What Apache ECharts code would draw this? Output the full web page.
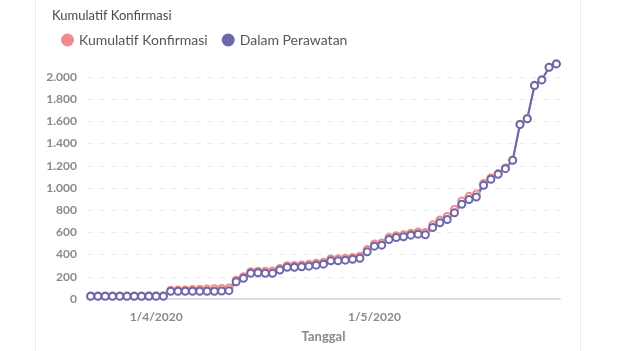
<!DOCTYPE html>
<html>
<head>
<meta charset="utf-8">
<script src="https://cdn.jsdelivr.net/npm/echarts@6/dist/echarts.min.js"></script>
<style>
  html, body { margin: 0; padding: 0; background: #fff; }
  #card { position: absolute; left: 35px; top: 0; width: 544px; height: 351px;
          border-left: 1px solid #ececec; border-right: 1px solid #ececec; }
  #chart { position: absolute; left: 0; top: 0; width: 624px; height: 351px; }
</style>
</head>
<body>
<div id="card"></div>
<div id="chart"></div>
<script>
// tanggal (d/m/yyyy)
const tanggal = [
  "23/3/2020", "24/3/2020", "25/3/2020", "26/3/2020", "27/3/2020", "28/3/2020", "29/3/2020", "30/3/2020", "31/3/2020",
  "1/4/2020", "2/4/2020", "3/4/2020", "4/4/2020", "5/4/2020", "6/4/2020", "7/4/2020", "8/4/2020", "9/4/2020", "10/4/2020",
  "11/4/2020", "12/4/2020", "13/4/2020", "14/4/2020", "15/4/2020", "16/4/2020", "17/4/2020", "18/4/2020", "19/4/2020", "20/4/2020",
  "21/4/2020", "22/4/2020", "23/4/2020", "24/4/2020", "25/4/2020", "26/4/2020", "27/4/2020", "28/4/2020", "29/4/2020", "30/4/2020",
  "1/5/2020", "2/5/2020", "3/5/2020", "4/5/2020", "5/5/2020", "6/5/2020", "7/5/2020", "8/5/2020", "9/5/2020", "10/5/2020",
  "11/5/2020", "12/5/2020", "13/5/2020", "14/5/2020", "15/5/2020", "16/5/2020", "17/5/2020", "18/5/2020", "19/5/2020", "20/5/2020",
  "21/5/2020", "22/5/2020", "23/5/2020", "24/5/2020", "25/5/2020", "26/5/2020"
];

// Dalam Perawatan
const dalamPerawatan = [
  25, 25, 25, 25, 25, 25, 25, 25, 25, 25, 25,
  70, 70, 70, 70, 70, 70, 70, 72, 75,
  155, 186, 231, 236, 231, 231, 261, 285, 285, 290,
  296, 305, 314, 344, 344, 350, 357, 366, 425, 476,
  485, 536, 553, 560, 575, 584, 578, 644, 686, 716,
  776, 854, 896, 919, 1024, 1078, 1123, 1174, 1249, 1572,
  1624, 1923, 1974, 2087, 2118
];

// Kumulatif Konfirmasi
const kumulatif = [
  28, 28, 28, 28, 28, 28, 28, 28, 30, 30, 30,
  78, 80, 82, 85, 88, 90, 92, 95, 100,
  170, 200, 245, 250, 250, 252, 275, 300, 302, 306,
  312, 322, 330, 360, 362, 368, 375, 385, 445, 495,
  505, 555, 570, 578, 592, 604, 600, 668, 712, 744,
  806, 884, 925, 945, 1040, 1090, 1130, 1180, 1252, 1575,
  1626, 1925, 1976, 2088, 2120
];

const yTicks = [0, 200, 400, 600, 800, 1000, 1200, 1400, 1600, 1800, 2000];
const labelDates = ["1/4/2020", "1/5/2020"];

const pink = "#f08c8c";
const purple = "#6d67ab";

const chart = echarts.init(document.getElementById("chart"));
chart.setOption({
  animation: false,
  textStyle: { fontFamily: "Lato, 'Open Sans', sans-serif" },
  title: {
    text: "Kumulatif Konfirmasi",
    left: 47, top: 4,
    textStyle: { fontSize: 13, fontWeight: "normal", color: "#4a4a4a", fontFamily: "Lato" }
  },
  legend: {
    left: 56, top: 28,
    icon: "circle",
    itemWidth: 13, itemHeight: 13, itemGap: 14,
    textStyle: { fontSize: 14, color: "#555", fontFamily: "Lato" },
    data: [
      { name: "Kumulatif Konfirmasi", itemStyle: { color: pink, borderWidth: 0 } },
      { name: "Dalam Perawatan", itemStyle: { color: purple, borderWidth: 0 } }
    ]
  },
  grid: { left: 87, right: 64, top: 77, bottom: 52 },
  xAxis: {
    type: "category",
    data: tanggal,
    boundaryGap: true,
    name: "Tanggal",
    nameLocation: "middle",
    nameGap: 31,
    nameTextStyle: { fontSize: 13, fontWeight: "bold", color: "#8a8a8a", fontFamily: "Lato" },
    axisLine: { lineStyle: { color: "#dcdcdc", width: 2 } },
    axisTick: { show: false },
    axisLabel: {
      interval: (i, v) => labelDates.includes(v),
      fontSize: 12, fontWeight: "bold", color: "#8a8a8a", margin: 12
    }
  },
  yAxis: {
    type: "value",
    min: yTicks[0],
    max: yTicks[yTicks.length - 1],
    interval: 200,
    axisLine: { show: false },
    axisTick: { show: false },
    axisLabel: {
      fontSize: 12, fontWeight: "bold", color: "#8a8a8a", margin: 10,
      formatter: v => String(v).replace(/\B(?=(\d{3})+(?!\d))/g, ".")
    },
    splitLine: { lineStyle: { color: "#ededed", type: [6, 6] } }
  },
  series: [
    {
      name: "Kumulatif Konfirmasi",
      type: "line",
      data: kumulatif,
      clip: false,
      symbol: "circle",
      symbolSize: 7,
      showSymbol: true,
      showAllSymbol: true,
      lineStyle: { color: pink, width: 2 },
      itemStyle: { color: "#fff", borderColor: pink, borderWidth: 2 }
    },
    {
      name: "Dalam Perawatan",
      type: "line",
      data: dalamPerawatan,
      clip: false,
      symbol: "circle",
      symbolSize: 7,
      showSymbol: true,
      showAllSymbol: true,
      lineStyle: { color: purple, width: 2 },
      itemStyle: { color: "#fff", borderColor: purple, borderWidth: 2 }
    }
  ]
});
</script>
</body>
</html>
